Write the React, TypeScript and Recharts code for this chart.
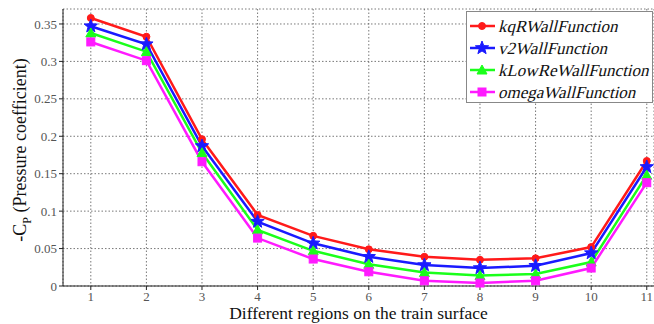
import { LineChart, Line, XAxis, YAxis, CartesianGrid } from "recharts";

const regions = [1, 2, 3, 4, 5, 6, 7, 8, 9, 10, 11];
const kqR = [0.358, 0.333, 0.196, 0.095, 0.067, 0.049, 0.039, 0.035, 0.037, 0.052, 0.167];
const v2 = [0.347, 0.323, 0.187, 0.086, 0.057, 0.039, 0.028, 0.024, 0.027, 0.044, 0.159];
const kLowRe = [0.338, 0.313, 0.178, 0.075, 0.047, 0.029, 0.018, 0.014, 0.016, 0.032, 0.148];
const omega = [0.326, 0.301, 0.166, 0.064, 0.036, 0.019, 0.007, 0.004, 0.007, 0.024, 0.138];
const yTicks = [0, 0.05, 0.1, 0.15, 0.2, 0.25, 0.3, 0.35];

const data = regions.map((r, i) => ({
  region: r,
  kqR: kqR[i],
  v2: v2[i],
  kLowRe: kLowRe[i],
  omega: omega[i],
}));

const series = [
  { key: "kqR", name: "kqRWallFunction", color: "#ff1a1a", shape: "circle" },
  { key: "v2", name: "v2WallFunction", color: "#1a1aff", shape: "star" },
  { key: "kLowRe", name: "kLowReWallFunction", color: "#1aff1a", shape: "triangle" },
  { key: "omega", name: "omegaWallFunction", color: "#ff1aff", shape: "square" },
];

const serif = "Liberation Serif, DejaVu Serif, serif";

const starPath = (cx: number, cy: number, r: number) => {
  let d = "";
  for (let i = 0; i < 10; i++) {
    const rr = i % 2 === 0 ? r : r * 0.42;
    const a = -Math.PI / 2 + (i * Math.PI) / 5;
    d += (i === 0 ? "M" : "L") + (cx + rr * Math.cos(a)) + "," + (cy + rr * Math.sin(a));
  }
  return d + "Z";
};

const Marker = ({ cx, cy, shape, color }: any) => {
  if (cx == null || cy == null) return null;
  if (shape === "circle") return <circle cx={cx} cy={cy} r={3.5} fill={color} stroke={color} />;
  if (shape === "star") return <path d={starPath(cx, cy, 7)} fill={color} stroke={color} />;
  if (shape === "triangle")
    return <path d={`M${cx},${cy - 5}L${cx + 5},${cy + 4}L${cx - 5},${cy + 4}Z`} fill={color} stroke={color} />;
  return <rect x={cx - 4} y={cy - 4} width={8} height={8} fill={color} stroke={color} />;
};

// serif italic face is not installed, so slant the upright serif instead
const LegendBox = () => (
  <svg width={188} height={93} style={{ position: "absolute", left: 466, top: 11 }}>
    <rect x={0.5} y={0.5} width={186} height={91} fill="#fff" stroke="#888" />
    {series.map((s, i) => {
      const y = 15 + i * 22;
      return (
        <g key={s.key}>
          <line x1={4} y1={y} x2={29} y2={y} stroke={s.color} strokeWidth={2.5} />
          <Marker cx={16} cy={y} shape={s.shape} color={s.color} />
          <g transform={`translate(32,${y + 6}) skewX(-14)`}>
            <text x={0} y={0} fontFamily={serif} fontSize={17} fill="#111">
              {s.name}
            </text>
          </g>
        </g>
      );
    })}
  </svg>
);

const YLabel = () => (
  <text
    x={0}
    y={0}
    transform="translate(26,150) rotate(-90)"
    textAnchor="middle"
    fontFamily={serif}
    fontSize={18}
    fill="#111"
  >
    -C
    <tspan fontSize={12} dy={5}>P</tspan>
    <tspan dy={-5}> (Pressure coefficient)</tspan>
  </text>
);

export default function App() {
  return (
    <div style={{ position: "relative", width: 654, height: 324, background: "#fff" }}>
      <style>{"body{margin:0}"}</style>
      <LineChart width={654} height={324} data={data} margin={{ top: 9, right: 0, left: 0, bottom: 0 }}>
        <CartesianGrid stroke="#555" strokeDasharray="1.5 2" strokeWidth={0.8} />
        <XAxis
          dataKey="region"
          type="number"
          domain={[0.5, 11.13]}
          ticks={regions}
          height={38}
          tickSize={4}
          stroke="#222"
          tick={{ fontFamily: serif, fontSize: 13, fill: "#555" }}
          label={{
            value: "Different regions on the train surface",
            position: "insideBottom",
            offset: 5,
            fontFamily: serif,
            fontSize: 17.5,
            fill: "#111",
            dx: 0,
          }}
        />
        <YAxis
          type="number"
          domain={[0, 0.37]}
          ticks={yTicks}
          width={63}
          tickSize={4}
          stroke="#222"
          tick={{ fontFamily: serif, fontSize: 13, fill: "#555" }}
          tickFormatter={(v: number) => String(v)}
          label={<YLabel />}
        />
        <XAxis
          xAxisId="top"
          orientation="top"
          type="number"
          domain={[0.5, 11.13]}
          tick={false}
          tickLine={false}
          height={0}
          stroke="#222"
          dataKey="region"
        />
        {series.map((s) => (
          <Line
            key={s.key}
            dataKey={s.key}
            name={s.name}
            stroke={s.color}
            strokeWidth={2.5}
            isAnimationActive={false}
            dot={(p: any) => <Marker key={`${s.key}-${p.index}`} cx={p.cx} cy={p.cy} shape={s.shape} color={s.color} />}
            activeDot={false}
          />
        ))}
      </LineChart>
      <LegendBox />
    </div>
  );
}
